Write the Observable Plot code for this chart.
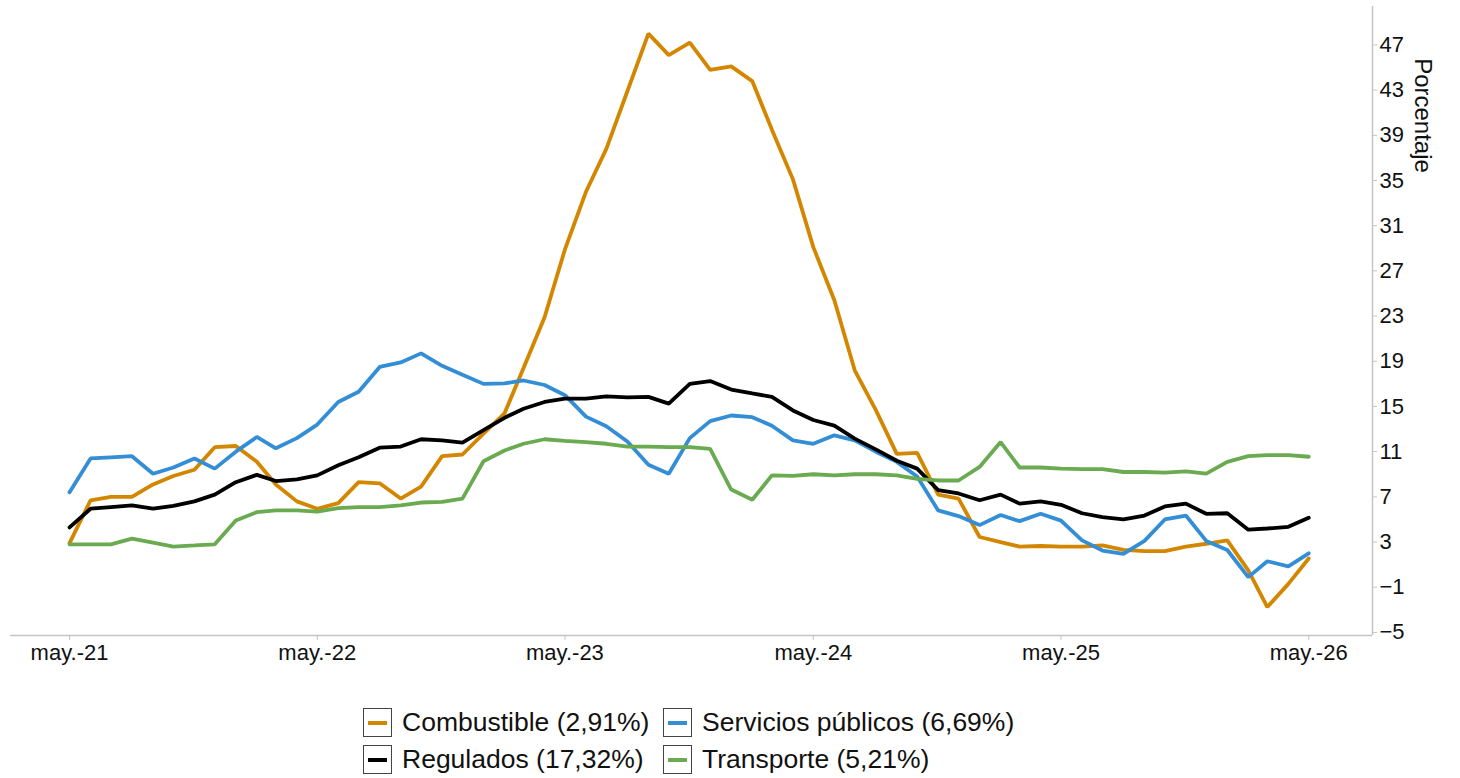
<!DOCTYPE html>
<html><head><meta charset="utf-8">
<script src="https://cdn.jsdelivr.net/npm/d3@7"></script>
<script src="https://cdn.jsdelivr.net/npm/@observablehq/plot@0.6"></script>
<style>
body{margin:0;background:#fff;font-family:"Liberation Sans",Arial,sans-serif;}
#wrap{position:relative;width:1460px;height:778px;overflow:hidden;}
.legend{position:absolute;left:363px;top:708px;display:grid;grid-template-columns:300px auto;row-gap:8px;}
.item{display:flex;align-items:center;height:29px;font-size:26.5px;color:#111;white-space:nowrap;}
.sw{width:29px;height:29px;border:1px solid #444;box-sizing:border-box;display:flex;align-items:center;justify-content:center;margin-right:10px;flex:none;}
.sw i{display:block;width:19px;height:4px;}
</style></head>
<body><div id="wrap"><div id="chart"></div><div class="legend" id="legend"></div></div>
<script>
// Monthly series, may.-21 .. may.-26 (61 months)
const firstMonth = "2021-05-01";
const lastMonth = "2026-05-01";

const seriesNames = ["Combustible", "Servicios públicos", "Regulados", "Transporte"];
const seriesLabels = ["Combustible (2,91%)", "Servicios públicos (6,69%)", "Regulados (17,32%)", "Transporte (5,21%)"];
const seriesColors = ["#D38600", "#338ED6", "#000000", "#6AAA50"];

const combustible = [2.9, 6.7, 7.0, 7.0, 8.1, 8.85, 9.4, 11.4, 11.5, 10.1, 8.1, 6.6, 5.95, 6.45, 8.3, 8.2, 6.85, 7.9, 10.6, 10.75,
  12.6, 14.4, 18.4, 22.9, 28.9, 34.0, 37.8, 42.9, 48.0, 46.1, 47.2, 44.8, 45.1, 43.8, 39.5, 35.1, 29.1, 24.4, 18.2, 14.7,
  10.8, 10.9, 7.2, 6.85, 3.45, 3.0, 2.6, 2.65, 2.6, 2.6, 2.7, 2.3, 2.2, 2.2, 2.6, 2.85, 3.15, 0.5, -2.75, -0.7, 1.55];
const servicios = [7.4, 10.4, 10.5, 10.6, 9.05, 9.6, 10.4, 9.5, 11.0, 12.3, 11.3, 12.2, 13.4, 15.4, 16.3, 18.5, 18.9, 19.7, 18.6, 17.8,
  17.0, 17.05, 17.3, 16.9, 16.0, 14.1, 13.25, 11.9, 9.85, 9.05, 12.2, 13.7, 14.2, 14.05, 13.3, 12.0, 11.7, 12.45, 12.0, 11.0,
  10.1, 8.8, 5.8, 5.3, 4.5, 5.4, 4.85, 5.5, 4.9, 3.15, 2.25, 1.95, 3.1, 5.0, 5.35, 3.1, 2.3, -0.1, 1.3, 0.85, 2.0];
const regulados = [4.3, 5.95, 6.1, 6.25, 5.95, 6.2, 6.6, 7.2, 8.3, 8.95, 8.4, 8.55, 8.9, 9.8, 10.5, 11.35, 11.45, 12.1, 12.0, 11.8,
  12.9, 14.0, 14.8, 15.4, 15.7, 15.7, 15.9, 15.8, 15.85, 15.25, 17.0, 17.25, 16.5, 16.15, 15.85, 14.65, 13.8, 13.3, 12.15, 11.2,
  10.2, 9.5, 7.6, 7.3, 6.7, 7.2, 6.4, 6.6, 6.3, 5.55, 5.2, 5.0, 5.35, 6.15, 6.4, 5.5, 5.55, 4.1, 4.2, 4.35, 5.15];
const transporte = [2.8, 2.8, 2.8, 3.3, 2.95, 2.6, 2.7, 2.8, 4.9, 5.65, 5.8, 5.8, 5.7, 6.0, 6.1, 6.1, 6.25, 6.5, 6.55, 6.85,
  10.15, 11.1, 11.7, 12.1, 11.95, 11.85, 11.7, 11.45, 11.45, 11.4, 11.4, 11.25, 7.65, 6.75, 8.9, 8.85, 9.0, 8.9, 9.0, 9.0,
  8.9, 8.6, 8.45, 8.45, 9.65, 11.85, 9.6, 9.6, 9.5, 9.45, 9.45, 9.2, 9.2, 9.15, 9.25, 9.05, 10.1, 10.6, 10.7, 10.7, 10.55];

const yTicks = [-5, -1, 3, 7, 11, 15, 19, 23, 27, 31, 35, 39, 43, 47];
const xTickLabels = ["may.-21", "may.-22", "may.-23", "may.-24", "may.-25", "may.-26"];
const yLabel = "Porcentaje";

const allValues = [combustible, servicios, regulados, transporte];
const start = new Date(firstMonth + "T00:00:00Z");
const end = new Date(lastMonth + "T00:00:00Z");
const months = d3.utcMonth.range(start, d3.utcMonth.offset(end, 1));
const xTickDates = xTickLabels.map((_, k) => d3.utcMonth.offset(start, 12 * k));

const table = [];
seriesNames.forEach((name, s) => {
  allValues[s].forEach((v, i) => table.push({series: name, date: months[i], value: v}));
});

const xDomain = [d3.utcDay.offset(start, -87), d3.utcDay.offset(end, 94)];

const chart = Plot.plot({
  width: 1460,
  height: 680,
  marginTop: 6,
  marginBottom: 45,
  marginLeft: 10,
  marginRight: 88,
  style: {fontFamily: "'Liberation Sans', Arial, sans-serif", fontSize: "22px", background: "#fff"},
  x: {type: "utc", domain: xDomain},
  y: {domain: [-5.27, 50.4]},
  color: {domain: seriesNames, range: seriesColors},
  marks: [
    Plot.ruleY([-5.27], {stroke: "#c4c4c4", strokeWidth: 1.5}),
    Plot.ruleX([xDomain[1]], {stroke: "#c4c4c4", strokeWidth: 1.5}),
    Plot.axisX(xTickDates, {tickSize: 5, tickPadding: 4, stroke: "#c4c4c4", fill: "#111", fontSize: 22,
      tickFormat: (d, i) => xTickLabels[i], label: null}),
    Plot.axisY(yTicks, {anchor: "right", tickSize: 4, tickPadding: 3, stroke: "#c4c4c4", fill: "#111", fontSize: 22, label: null}),
    Plot.lineY(table, {x: "date", y: "value", z: "series", stroke: "series", strokeWidth: 3.8, strokeLinejoin: "miter"}),
    Plot.text([yLabel], {frameAnchor: "top-right", dx: 50, dy: 109, rotate: 90, textAnchor: "middle", lineAnchor: "middle", fontSize: 24, fill: "#111"})
  ]
});
document.getElementById("chart").appendChild(chart);

const legend = document.getElementById("legend");
const legendOrder = [0, 1, 2, 3];
legendOrder.forEach((s) => {
  const it = document.createElement("div");
  it.className = "item";
  it.innerHTML = `<span class="sw"><i style="background:${seriesColors[s]}"></i></span><span>${seriesLabels[s]}</span>`;
  legend.appendChild(it);
});
</script>
</body></html>
